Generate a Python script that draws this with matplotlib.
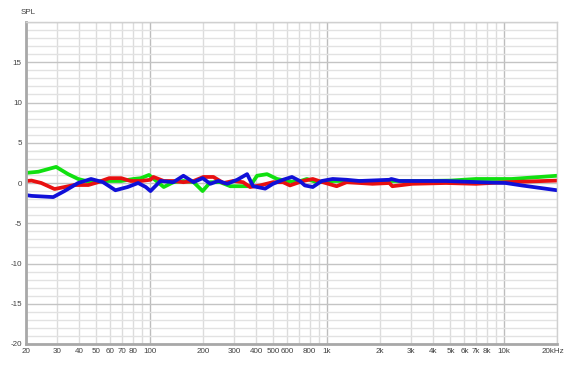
#!/usr/bin/env python3

from matplotlib import pyplot as plt
from matplotlib import transforms
from matplotlib.ticker import FixedLocator, NullFormatter

# frequency response readings (Hz, dB)
green_f = [20, 23.5, 29.6, 34.6, 39.4, 46.6, 55, 69, 81, 89, 99, 120, 136, 155, 177, 199, 220, 250,
           285, 324, 369, 404, 460, 524, 596, 678, 772, 879, 1100, 2000, 3500, 5000, 6966, 11090, 20000]
green_db = [1.25, 1.4, 2.0, 1.1, 0.5, 0.1, 0.25, 0.25, 0.5, 0.6, 1.0, -0.5, 0.1, 0.25, 0.1, -1.0, 0.1, 0.1,
            -0.4, -0.4, -0.4, 0.9, 1.1, 0.5, 0.25, 0.1, 0.5, 0.1, 0.25, 0.25, 0.25, 0.3, 0.5, 0.5, 0.9]

red_f = [20, 21.5, 24.4, 29, 33, 37.4, 45, 51, 59, 69, 78, 89, 101, 105, 120, 136, 155, 177, 201, 229,
         261, 296, 337, 369, 420, 497, 566, 620, 733, 834, 950, 1138, 1295, 1532, 1813, 2259, 2349,
         3041, 4720, 6966, 10260, 20000]
red_db = [0.25, 0.3, 0.0, -0.75, -0.5, -0.25, -0.25, 0.1, 0.6, 0.6, 0.25, 0.25, 0.4, 0.75, 0.25, 0.25,
          0.1, 0.25, 0.75, 0.75, 0.0, 0.25, 0.1, -0.5, -0.3, 0.1, 0.1, -0.3, 0.25, 0.5, 0.1, -0.4, 0.1,
          0.0, -0.1, 0.0, -0.4, -0.1, 0.0, -0.1, 0.1, 0.3]

blue_f = [20, 21.5, 28.5, 33, 39.4, 46.6, 54.5, 64, 75, 86, 95, 101, 115, 136, 155, 177, 199, 220, 244,
          274, 312, 355, 384, 449, 497, 566, 636, 705, 752, 834, 937, 1081, 1295, 1532, 2259, 2317,
          2570, 3327, 4720, 7244, 10260, 12620, 20000]
blue_db = [-1.5, -1.6, -1.75, -1.0, 0.0, 0.5, 0.1, -0.9, -0.5, 0.0, -0.5, -1.0, 0.25, 0.1, 0.9, 0.1,
           0.6, -0.1, 0.25, -0.1, 0.4, 1.1, -0.4, -0.7, -0.1, 0.4, 0.75, 0.25, -0.3, -0.5, 0.25, 0.5,
           0.4, 0.25, 0.4, 0.5, 0.25, 0.25, 0.25, 0.1, 0.0, -0.3, -0.9]

x_ticks = [20, 30, 40, 50, 60, 70, 80, 100, 200, 300, 400, 500, 600, 800, 1000,
           2000, 3000, 4000, 5000, 6000, 7000, 8000, 10000, 20000]
x_labels = ['20', '30', '40', '50', '60', '70', '80', '100', '200', '300', '400', '500', '600',
            '800', '1k', '2k', '3k', '4k', '5k', '6k', '7k', '8k', '10k', '20kHz']
y_ticks = [-20, -15, -10, -5, 0, 5, 10, 15]

plt.rcParams['font.family'] = ['Liberation Sans', 'DejaVu Sans']

fig = plt.figure(figsize=(5.65, 3.65), dpi=100)
ax = fig.add_axes([26 / 565, 1 - 344 / 365, 531 / 565, 322 / 365])

# grid: every 1 dB and every 1-2-3... Hz, darker on 5 dB and decades
grid_f = [m * 10 ** e for e in range(1, 5) for m in range(1, 10) if 20 <= m * 10 ** e <= 20000]
for f in grid_f:
    major = f in (100, 1000, 10000)
    ax.axvline(f, color='#bdbdbd' if major else '#dcdcdc', lw=1.0, zorder=0)
for v in range(-20, 21):
    ax.axhline(v, color='#c4c4c4' if v % 5 == 0 else '#e2e2e2', lw=1.0, zorder=0)

ax.plot(green_f, green_db, color='#10e010', lw=2.7, solid_joinstyle='round', solid_capstyle='round')
ax.plot(red_f, red_db, color='#e81010', lw=2.7, solid_joinstyle='round', solid_capstyle='round')
ax.plot(blue_f, blue_db, color='#1010d8', lw=2.7, solid_joinstyle='round', solid_capstyle='round')

ax.set_xscale('log')
ax.set_xlim(20, 20000)
ax.set_ylim(-20, 20)
ax.xaxis.set_minor_locator(FixedLocator([]))
ax.xaxis.set_minor_formatter(NullFormatter())
ax.set_xticks(x_ticks, x_labels)
ax.set_yticks(y_ticks, [str(v) for v in y_ticks])
ax.tick_params(length=0, labelsize=5.8, colors='#404040', pad=3)

# keep "20kHz" inside the figure
last = ax.get_xticklabels()[-1]
last.set_horizontalalignment('right')
last.set_transform(last.get_transform() + transforms.ScaledTranslation(7 / 100, 0, fig.dpi_scale_trans))

for side in ('top', 'right'):
    ax.spines[side].set_color('#d0d0d0')
    ax.spines[side].set_linewidth(1.0)
for side in ('left', 'bottom'):
    ax.spines[side].set_color('#a8a8a8')
    ax.spines[side].set_linewidth(2.0)

fig.text(21 / 565, 1 - 13 / 365, 'SPL', fontsize=5.8, color='#404040', ha='left', va='center')

fig.savefig('out.png', dpi=100)
